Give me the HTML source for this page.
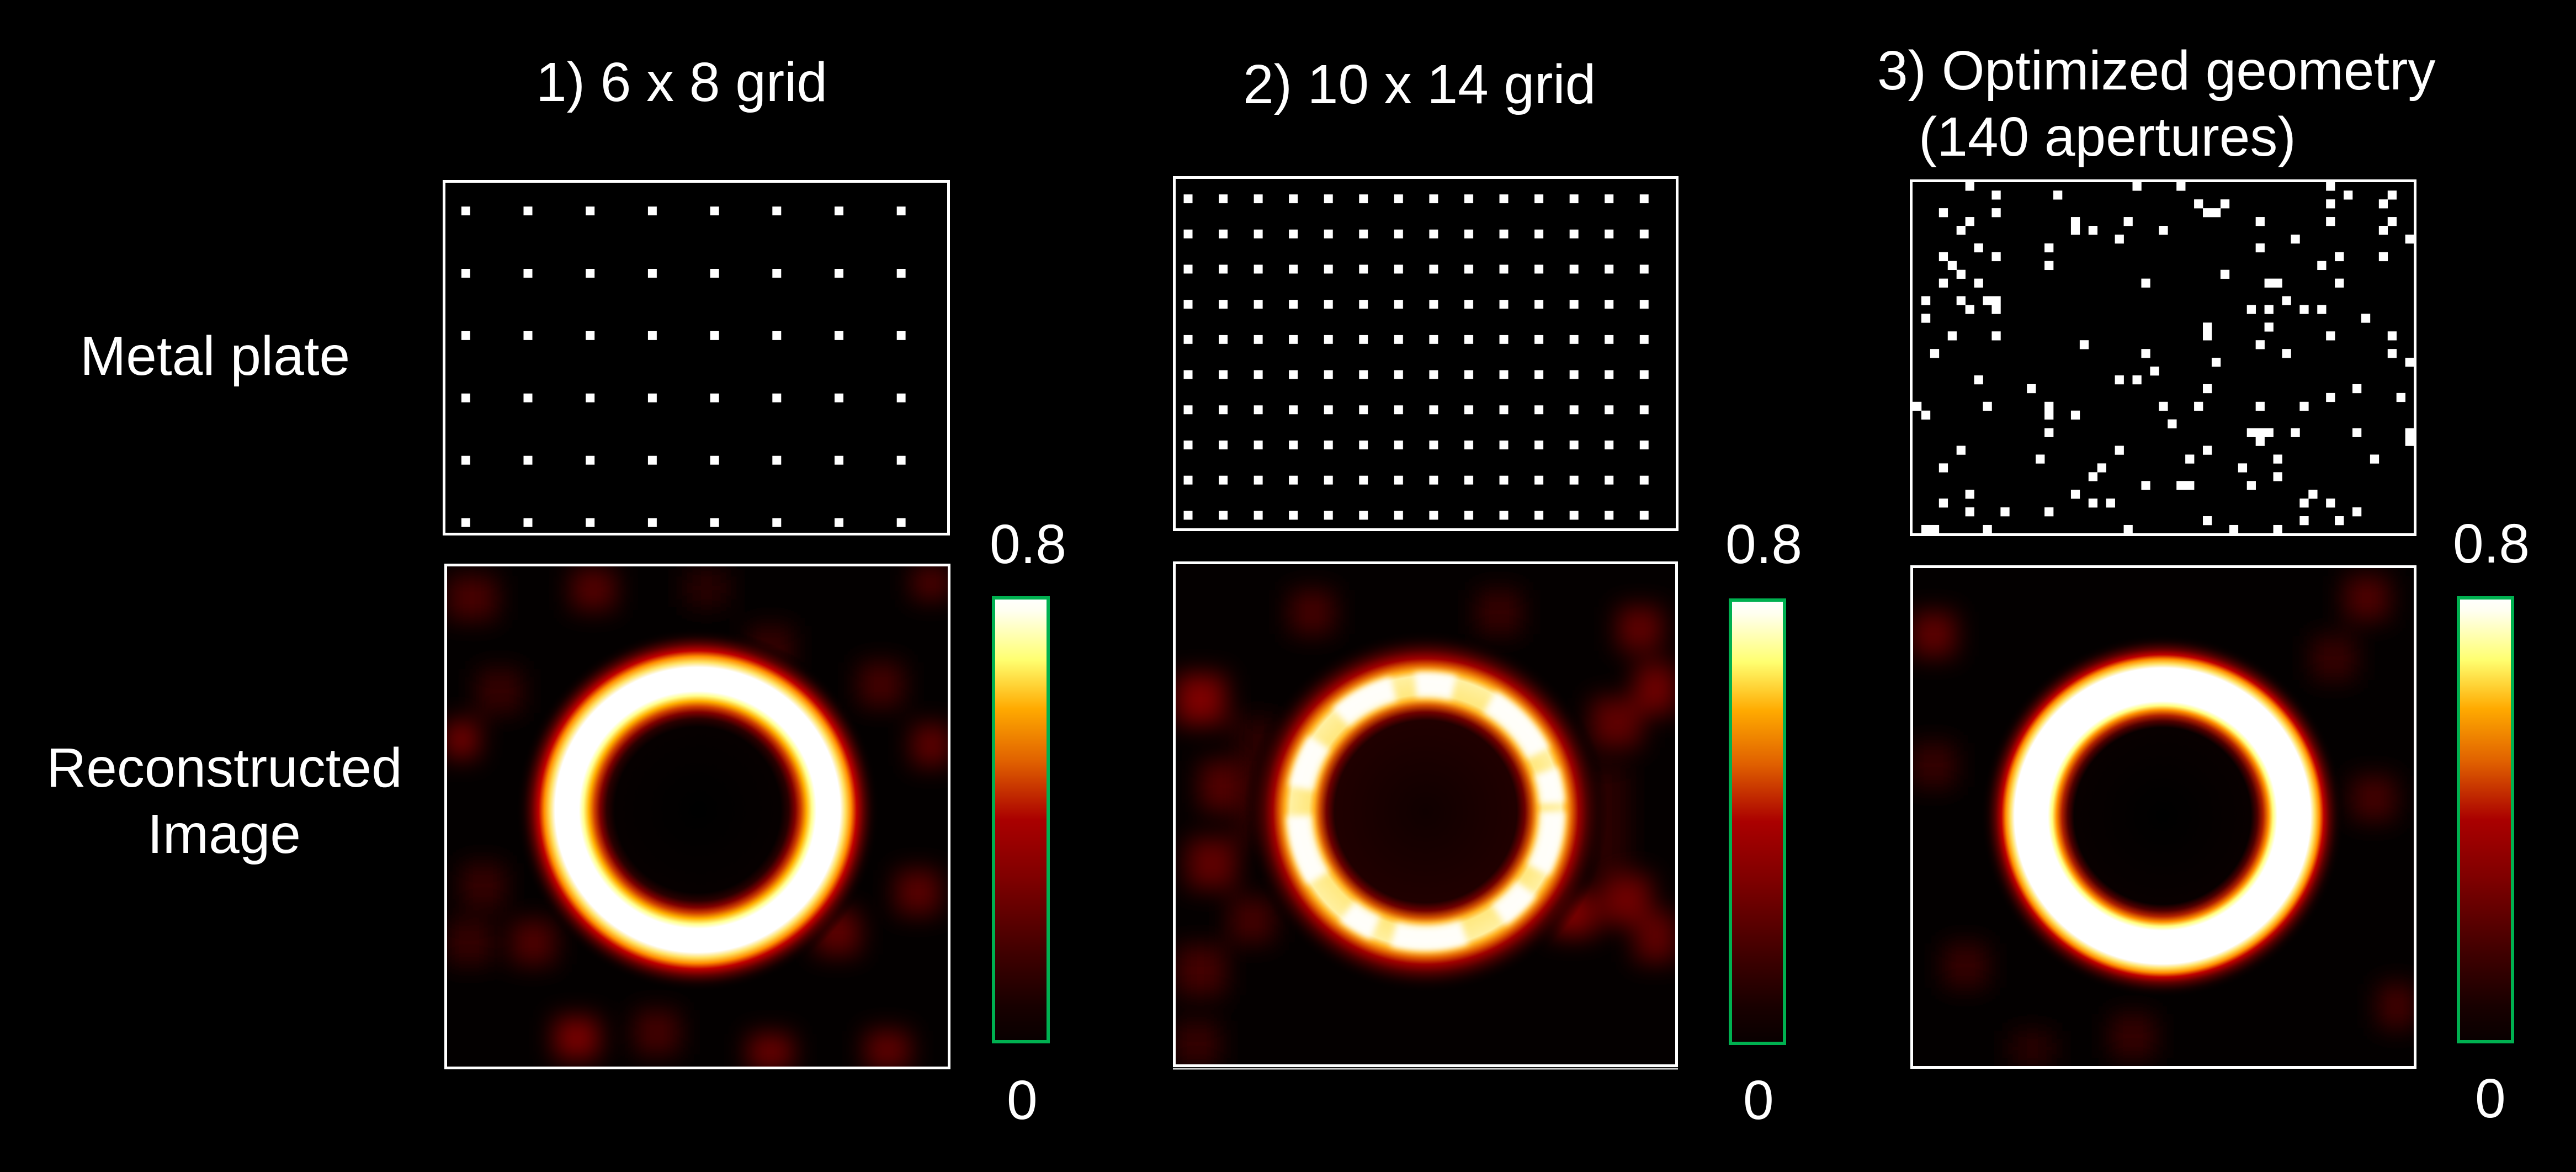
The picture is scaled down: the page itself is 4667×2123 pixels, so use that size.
<!DOCTYPE html>
<html><head><meta charset="utf-8"><style>
html,body{margin:0;padding:0;background:#000;}
svg{display:block;}
text{font-family:"Liberation Sans",Arial,sans-serif;fill:#fff;font-size:100px;}
</style></head><body>
<svg width="4667" height="2123" viewBox="0 0 4667 2123" xmlns="http://www.w3.org/2000/svg">
<defs>
<pattern id="p1" patternUnits="userSpaceOnUse" x="835.8" y="374.1" width="112.7" height="112.9"><rect x="0" y="0" width="16" height="16" fill="#fff"/></pattern>
<pattern id="p2" patternUnits="userSpaceOnUse" x="2144.5" y="352.1" width="63.56" height="63.7"><rect x="0" y="0" width="16" height="16" fill="#fff"/></pattern>
<linearGradient id="cb" x1="0" y1="0" x2="0" y2="1">
<stop offset="0" stop-color="#ffffff"/><stop offset="0.03" stop-color="#fffff0"/><stop offset="0.14" stop-color="#ffff70"/><stop offset="0.25" stop-color="#ffaa00"/><stop offset="0.37" stop-color="#e06000"/><stop offset="0.5" stop-color="#aa0000"/><stop offset="0.63" stop-color="#800000"/><stop offset="0.8" stop-color="#400000"/><stop offset="0.92" stop-color="#180000"/><stop offset="1" stop-color="#080000"/>
</linearGradient>
<radialGradient id="r1" gradientUnits="userSpaceOnUse" cx="1264" cy="1467" r="330">
<stop offset="0" stop-color="#000"/><stop offset="0.455" stop-color="#060000"/><stop offset="0.5" stop-color="#2a0000"/><stop offset="0.536" stop-color="#800000"/><stop offset="0.567" stop-color="#d04000"/><stop offset="0.597" stop-color="#ffb000"/><stop offset="0.627" stop-color="#ffff90"/><stop offset="0.652" stop-color="#ffffff"/><stop offset="0.782" stop-color="#ffffff"/><stop offset="0.812" stop-color="#ffe060"/><stop offset="0.842" stop-color="#ff9000"/><stop offset="0.873" stop-color="#c00000"/><stop offset="0.909" stop-color="#600000"/><stop offset="0.955" stop-color="#200000" stop-opacity="0.6"/><stop offset="1" stop-color="#000" stop-opacity="0"/>
</radialGradient>
<radialGradient id="r2" gradientUnits="userSpaceOnUse" cx="2583" cy="1470" r="330">
<stop offset="0" stop-color="#100000"/><stop offset="0.5" stop-color="#200000"/><stop offset="0.545" stop-color="#700000"/><stop offset="0.582" stop-color="#d05000"/><stop offset="0.612" stop-color="#ffb020"/><stop offset="0.642" stop-color="#ffe880"/><stop offset="0.742" stop-color="#fff0a0"/><stop offset="0.773" stop-color="#ffb020"/><stop offset="0.803" stop-color="#e06000"/><stop offset="0.839" stop-color="#a00000"/><stop offset="0.885" stop-color="#500000"/><stop offset="0.94" stop-color="#200000" stop-opacity="0.6"/><stop offset="1" stop-color="#000" stop-opacity="0"/>
</radialGradient>
<radialGradient id="r3" gradientUnits="userSpaceOnUse" cx="3918" cy="1478" r="330">
<stop offset="0" stop-color="#000"/><stop offset="0.485" stop-color="#080000"/><stop offset="0.521" stop-color="#500000"/><stop offset="0.552" stop-color="#b02000"/><stop offset="0.582" stop-color="#ff9000"/><stop offset="0.606" stop-color="#ffff80"/><stop offset="0.63" stop-color="#ffffff"/><stop offset="0.812" stop-color="#ffffff"/><stop offset="0.836" stop-color="#ffe060"/><stop offset="0.861" stop-color="#ff9000"/><stop offset="0.885" stop-color="#c00000"/><stop offset="0.915" stop-color="#600000"/><stop offset="0.958" stop-color="#200000" stop-opacity="0.6"/><stop offset="1" stop-color="#000" stop-opacity="0"/>
</radialGradient>
<filter id="bl" x="-100%" y="-100%" width="300%" height="300%"><feGaussianBlur stdDeviation="22"/></filter>
<filter id="bs" x="-20%" y="-20%" width="140%" height="140%"><feGaussianBlur stdDeviation="6"/></filter>
<clipPath id="c1"><rect x="807" y="1023" width="913" height="912"/></clipPath>
<clipPath id="c2"><rect x="2127" y="1019" width="911" height="912"/></clipPath>
<clipPath id="c3"><rect x="3463" y="1026" width="913" height="908"/></clipPath>
</defs>

<rect width="4667" height="2123" fill="#000"/>

<!-- Titles -->
<text x="971" y="183">1) 6 x 8 grid</text>
<text x="2252" y="187">2) 10 x 14 grid</text>
<text x="3401" y="162">3) Optimized geometry</text>
<text x="3476" y="282">(140 apertures)</text>

<!-- Row labels -->
<text x="145" y="679">Metal plate</text>
<text x="84" y="1425">Reconstructed</text>
<text x="267" y="1545">Image</text>

<!-- Plate 1 -->
<rect x="835.8" y="374.1" width="805" height="581" fill="url(#p1)"/>
<rect x="804.5" y="328.5" width="914" height="639" fill="none" stroke="#fff" stroke-width="5"/>

<!-- Plate 2 -->
<rect x="2144.5" y="352.1" width="843" height="590" fill="url(#p2)"/>
<rect x="2127.5" y="321.5" width="911" height="638" fill="none" stroke="#fff" stroke-width="5"/>

<!-- Plate 3 -->
<g transform="translate(3465,329.3) scale(15.94)" fill="#fff">
<rect x="6" y="0" width="1.02" height="1.02"/><rect x="25" y="0" width="1.02" height="1.02"/><rect x="30" y="0" width="1.02" height="1.02"/><rect x="47" y="0" width="1.02" height="1.02"/>
<rect x="9" y="1" width="1.02" height="1.02"/><rect x="16" y="1" width="1.02" height="1.02"/><rect x="49" y="1" width="1.02" height="1.02"/><rect x="54" y="1" width="1.02" height="1.02"/>
<rect x="32" y="2" width="1.02" height="1.02"/><rect x="35" y="2" width="1.02" height="1.02"/><rect x="47" y="2" width="1.02" height="1.02"/><rect x="53" y="2" width="1.02" height="1.02"/>
<rect x="3" y="3" width="1.02" height="1.02"/><rect x="9" y="3" width="1.02" height="1.02"/><rect x="33" y="3" width="2.02" height="1.02"/>
<rect x="6" y="4" width="1.02" height="1.02"/><rect x="18" y="4" width="1.02" height="2.02"/><rect x="24" y="4" width="1.02" height="1.02"/><rect x="39" y="4" width="1.02" height="1.02"/><rect x="47" y="4" width="1.02" height="1.02"/><rect x="54" y="4" width="1.02" height="1.02"/>
<rect x="5" y="5" width="1.02" height="1.02"/><rect x="20" y="5" width="1.02" height="1.02"/><rect x="28" y="5" width="1.02" height="1.02"/><rect x="53" y="5" width="1.02" height="1.02"/>
<rect x="23" y="6" width="1.02" height="1.02"/><rect x="43" y="6" width="1.02" height="1.02"/><rect x="56" y="6" width="1.02" height="1.02"/>
<rect x="7" y="7" width="1.02" height="1.02"/><rect x="15" y="7" width="1.02" height="1.02"/><rect x="39" y="7" width="1.02" height="1.02"/>
<rect x="3" y="8" width="1.02" height="1.02"/><rect x="9" y="8" width="1.02" height="1.02"/><rect x="48" y="8" width="1.02" height="1.02"/><rect x="53" y="8" width="1.02" height="1.02"/>
<rect x="4" y="9" width="1.02" height="1.02"/><rect x="15" y="9" width="1.02" height="1.02"/><rect x="46" y="9" width="1.02" height="1.02"/>
<rect x="5" y="10" width="1.02" height="1.02"/><rect x="35" y="10" width="1.02" height="1.02"/>
<rect x="3" y="11" width="1.02" height="1.02"/><rect x="7" y="11" width="1.02" height="1.02"/><rect x="26" y="11" width="1.02" height="1.02"/><rect x="40" y="11" width="2.02" height="1.02"/><rect x="48" y="11" width="1.02" height="1.02"/>
<rect x="1" y="13" width="1.02" height="1.02"/><rect x="5" y="13" width="1.02" height="1.02"/><rect x="8" y="13" width="2.02" height="1.02"/><rect x="42" y="13" width="1.02" height="1.02"/>
<rect x="6" y="14" width="1.02" height="1.02"/><rect x="9" y="14" width="1.02" height="1.02"/><rect x="38" y="14" width="1.02" height="1.02"/><rect x="40" y="14" width="1.02" height="1.02"/><rect x="44" y="14" width="1.02" height="1.02"/><rect x="46" y="14" width="1.02" height="1.02"/>
<rect x="1" y="15" width="1.02" height="1.02"/><rect x="51" y="15" width="1.02" height="1.02"/>
<rect x="33" y="16" width="1.02" height="2.02"/><rect x="40" y="16" width="1.02" height="1.02"/>
<rect x="4" y="17" width="1.02" height="1.02"/><rect x="9" y="17" width="1.02" height="1.02"/><rect x="47" y="17" width="1.02" height="1.02"/><rect x="54" y="17" width="1.02" height="1.02"/>
<rect x="19" y="18" width="1.02" height="1.02"/><rect x="39" y="18" width="1.02" height="1.02"/>
<rect x="2" y="19" width="1.02" height="1.02"/><rect x="26" y="19" width="1.02" height="1.02"/><rect x="42" y="19" width="1.02" height="1.02"/><rect x="54" y="19" width="1.02" height="1.02"/>
<rect x="34" y="20" width="1.02" height="1.02"/><rect x="56" y="20" width="1.02" height="1.02"/>
<rect x="27" y="21" width="1.02" height="1.02"/>
<rect x="7" y="22" width="1.02" height="1.02"/><rect x="23" y="22" width="1.02" height="1.02"/><rect x="25" y="22" width="1.02" height="1.02"/>
<rect x="13" y="23" width="1.02" height="1.02"/><rect x="33" y="23" width="1.02" height="1.02"/><rect x="50" y="23" width="1.02" height="1.02"/>
<rect x="47" y="24" width="1.02" height="1.02"/><rect x="55" y="24" width="1.02" height="1.02"/>
<rect x="0" y="25" width="1.02" height="1.02"/><rect x="8" y="25" width="1.02" height="1.02"/><rect x="15" y="25" width="1.02" height="2.02"/><rect x="28" y="25" width="1.02" height="1.02"/><rect x="32" y="25" width="1.02" height="1.02"/><rect x="39" y="25" width="1.02" height="1.02"/><rect x="44" y="25" width="1.02" height="1.02"/>
<rect x="1" y="26" width="1.02" height="1.02"/><rect x="18" y="26" width="1.02" height="1.02"/>
<rect x="29" y="27" width="1.02" height="1.02"/>
<rect x="15" y="28" width="1.02" height="1.02"/><rect x="38" y="28" width="3.02" height="1.02"/><rect x="43" y="28" width="1.02" height="1.02"/><rect x="50" y="28" width="1.02" height="1.02"/><rect x="56" y="28" width="1.02" height="2.02"/>
<rect x="39" y="29" width="1.02" height="1.02"/>
<rect x="5" y="30" width="1.02" height="1.02"/><rect x="23" y="30" width="1.02" height="1.02"/><rect x="33" y="30" width="1.02" height="1.02"/>
<rect x="14" y="31" width="1.02" height="1.02"/><rect x="31" y="31" width="1.02" height="1.02"/><rect x="41" y="31" width="1.02" height="1.02"/><rect x="52" y="31" width="1.02" height="1.02"/>
<rect x="3" y="32" width="1.02" height="1.02"/><rect x="21" y="32" width="1.02" height="1.02"/><rect x="37" y="32" width="1.02" height="1.02"/>
<rect x="20" y="33" width="1.02" height="1.02"/><rect x="41" y="33" width="1.02" height="1.02"/>
<rect x="26" y="34" width="1.02" height="1.02"/><rect x="30" y="34" width="2.02" height="1.02"/><rect x="38" y="34" width="1.02" height="1.02"/>
<rect x="6" y="35" width="1.02" height="1.02"/><rect x="18" y="35" width="1.02" height="1.02"/><rect x="45" y="35" width="1.02" height="1.02"/>
<rect x="3" y="36" width="1.02" height="1.02"/><rect x="20" y="36" width="1.02" height="1.02"/><rect x="22" y="36" width="1.02" height="1.02"/><rect x="44" y="36" width="1.02" height="1.02"/><rect x="47" y="36" width="1.02" height="1.02"/>
<rect x="6" y="37" width="1.02" height="1.02"/><rect x="10" y="37" width="1.02" height="1.02"/><rect x="15" y="37" width="1.02" height="1.02"/><rect x="50" y="37" width="1.02" height="1.02"/>
<rect x="33" y="38" width="1.02" height="1.02"/><rect x="44" y="38" width="1.02" height="1.02"/><rect x="48" y="38" width="1.02" height="1.02"/>
<rect x="1" y="39" width="2.02" height="1.02"/><rect x="8" y="39" width="1.02" height="1.02"/><rect x="24" y="39" width="1.02" height="1.02"/><rect x="36" y="39" width="1.02" height="1.02"/><rect x="41" y="39" width="1.02" height="1.02"/>
</g>
<rect x="3462.5" y="327.5" width="913" height="641" fill="none" stroke="#fff" stroke-width="5"/>

<!-- Recon 1 -->
<g clip-path="url(#c1)">
<rect x="807" y="1023" width="913" height="912" fill="#030000"/>
<g filter="url(#bl)">
<rect x="810" y="1043" width="90" height="80" fill="#4a0000"/>
<rect x="1035" y="1030" width="80" height="75" fill="#550000"/>
<rect x="806" y="1307" width="60" height="65" fill="#7a0000"/>
<rect x="865" y="1212" width="80" height="80" fill="#380000"/>
<rect x="1556" y="1200" width="80" height="80" fill="#450000"/>
<rect x="1652" y="1312" width="70" height="75" fill="#600000"/>
<rect x="1652" y="1026" width="70" height="60" fill="#500000"/>
<rect x="1623" y="1576" width="80" height="80" fill="#5a0000"/>
<rect x="1477" y="1649" width="80" height="80" fill="#600000"/>
<rect x="926" y="1667" width="80" height="80" fill="#500000"/>
<rect x="1005" y="1843" width="80" height="75" fill="#7a0000"/>
<rect x="1356" y="1873" width="80" height="65" fill="#6a0000"/>
<rect x="1568" y="1867" width="80" height="70" fill="#600000"/>
<rect x="1150" y="1830" width="80" height="80" fill="#450000"/>
<rect x="810" y="1667" width="80" height="80" fill="#380000"/>
<rect x="1356" y="1134" width="80" height="80" fill="#380000"/>
<rect x="835" y="1564" width="80" height="80" fill="#380000"/>
<rect x="1240" y="1030" width="80" height="70" fill="#2a0000"/>
</g>
<circle cx="1264" cy="1467" r="330" fill="url(#r1)"/>
</g>
<rect x="807.5" y="1023.5" width="912" height="911" fill="none" stroke="#fff" stroke-width="5"/>

<!-- Recon 2 -->
<g clip-path="url(#c2)">
<rect x="2127" y="1019" width="911" height="912" fill="#040000"/>
<g filter="url(#bl)">
<rect x="2130" y="1222" width="90" height="90" fill="#800000"/>
<rect x="2174" y="1379" width="90" height="90" fill="#550000"/>
<rect x="2150" y="1519" width="90" height="90" fill="#600000"/>
<rect x="2130" y="1713" width="90" height="90" fill="#450000"/>
<rect x="2337" y="1069" width="80" height="80" fill="#450000"/>
<rect x="2931" y="1099" width="80" height="80" fill="#600000"/>
<rect x="2962" y="1203" width="75" height="90" fill="#700000"/>
<rect x="2883" y="1264" width="90" height="90" fill="#600000"/>
<rect x="2901" y="1585" width="90" height="90" fill="#700000"/>
<rect x="2962" y="1652" width="75" height="90" fill="#600000"/>
<rect x="2809" y="1615" width="80" height="80" fill="#800000"/>
<rect x="2568" y="1379" width="90" height="90" fill="#550000"/>
<rect x="2228" y="1627" width="80" height="80" fill="#450000"/>
<rect x="2128" y="1851" width="80" height="80" fill="#380000"/>
<rect x="2676" y="1069" width="80" height="80" fill="#380000"/>
<rect x="2240" y="1300" width="80" height="220" fill="#2a0000"/>
<rect x="2870" y="1390" width="80" height="180" fill="#2a0000"/>
</g>
<circle cx="2583" cy="1470" r="330" fill="url(#r2)"/>
<g filter="url(#bs)">
<circle cx="2583" cy="1470" r="230" fill="none" stroke="#ffffff" stroke-width="44" stroke-dasharray="110 40 70 70 130 35 60 80 120 50 90 60" opacity="0.95"/>
</g>
</g>
<rect x="2127.5" y="1019.5" width="910" height="911" fill="none" stroke="#fff" stroke-width="5"/>
<line x1="2125" y1="1936" x2="3040" y2="1936" stroke="#ccc" stroke-width="3"/>

<!-- Recon 3 -->
<g clip-path="url(#c3)">
<rect x="3463" y="1026" width="913" height="908" fill="#030000"/>
<g filter="url(#bl)">
<rect x="3463" y="1109" width="80" height="80" fill="#600000"/>
<rect x="4248" y="1043" width="80" height="80" fill="#500000"/>
<rect x="3463" y="1346" width="80" height="80" fill="#380000"/>
<rect x="4260" y="1406" width="80" height="80" fill="#450000"/>
<rect x="3521" y="1709" width="80" height="80" fill="#380000"/>
<rect x="4309" y="1782" width="67" height="80" fill="#450000"/>
<rect x="3824" y="1837" width="80" height="80" fill="#380000"/>
<rect x="4188" y="1152" width="80" height="80" fill="#380000"/>
<rect x="3642" y="1867" width="80" height="65" fill="#2a0000"/>
</g>
<circle cx="3918" cy="1478" r="330" fill="url(#r3)"/>
</g>
<rect x="3463.5" y="1026.5" width="912" height="907" fill="none" stroke="#fff" stroke-width="5"/>

<!-- Colorbars -->
<rect x="1800" y="1083" width="99" height="804" fill="url(#cb)" stroke="#00b050" stroke-width="6"/>
<rect x="3135" y="1087" width="98" height="803" fill="url(#cb)" stroke="#00b050" stroke-width="6"/>
<rect x="4454" y="1083" width="98" height="804" fill="url(#cb)" stroke="#00b050" stroke-width="6"/>

<text x="1793" y="1020">0.8</text>
<text x="1824" y="2027">0</text>
<text x="3126" y="1020">0.8</text>
<text x="3158" y="2027">0</text>
<text x="4444" y="1019">0.8</text>
<text x="4484" y="2024">0</text>
</svg>
</body></html>
